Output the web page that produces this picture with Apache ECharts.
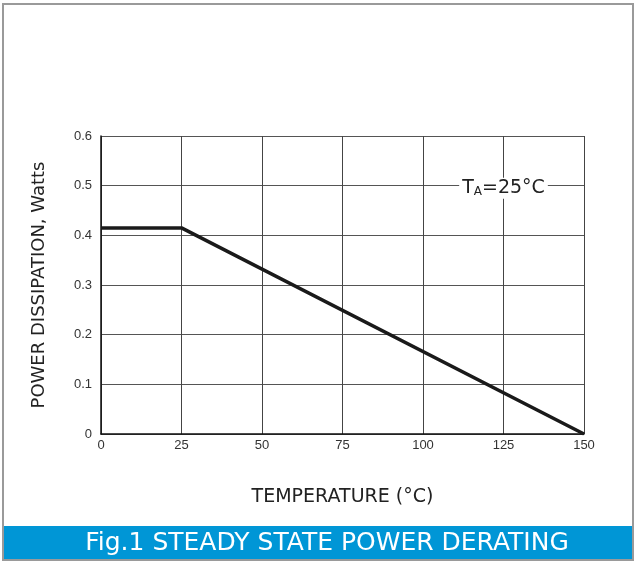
<!DOCTYPE html>
<html>
<head>
<meta charset="utf-8">
<script src="https://cdn.jsdelivr.net/npm/echarts@6/dist/echarts.min.js"></script>
<style>
html,body{margin:0;padding:0;background:#fff;}
#c{width:636px;height:563px;}
</style>
</head>
<body>
<div id="c"></div>
<script>
const temperature = [0, 25, 150];
const powerWatts = [0.415, 0.415, 0];
const xTicks = [0, 25, 50, 75, 100, 125, 150];
const yTicks = [0, 0.1, 0.2, 0.3, 0.4, 0.5, 0.6];
const title = 'Fig.1 STEADY STATE POWER DERATING';
const xTitle = 'TEMPERATURE (\u00B0C)';
const yTitle = 'POWER DISSIPATION, Watts';

const chart = echarts.init(document.getElementById('c'), null, {renderer: 'canvas'});
const font = 'Liberation Sans, Arial, sans-serif';
const wide = 'DejaVu Sans, sans-serif';
chart.setOption({
  animation: false,
  backgroundColor: '#fff',
  grid: {left: 101, right: 52, top: 136, bottom: 129},
  xAxis: {
    type: 'value', min: 0, max: 150, interval: 25,
    axisLine: {show: true, onZero: false, lineStyle: {color: '#111', width: 1.5}},
    axisTick: {show: false},
    axisLabel: {color: '#333', fontSize: 13, fontFamily: font, margin: 5,
      formatter: v => xTicks.includes(v) ? String(v) : ''},
    splitLine: {show: true, lineStyle: {color: '#444', width: 1}},
    name: xTitle, nameLocation: 'middle', nameGap: 54,
    nameTextStyle: {color: '#222', fontSize: 19, fontFamily: wide}
  },
  yAxis: {
    type: 'value', min: 0, max: 0.6, interval: 0.1,
    axisLine: {show: true, lineStyle: {color: '#111', width: 1.5}},
    axisTick: {show: false},
    axisLabel: {color: '#333', fontSize: 13, fontFamily: font, margin: 9,
      formatter: v => { const t = yTicks.find(y => Math.abs(y - v) < 1e-9); return t === 0 ? '0' : t.toFixed(1); }},
    splitLine: {show: true, lineStyle: {color: '#555', width: 1}},
    name: yTitle, nameLocation: 'middle', nameGap: 53,
    nameTextStyle: {color: '#222', fontSize: 18, fontFamily: wide}
  },
  series: [{
    type: 'line',
    data: temperature.map((t, i) => [t, powerWatts[i]]),
    symbol: 'none',
    lineStyle: {color: '#1a1a1a', width: 3.5},
    markPoint: {
      symbol: 'rect', symbolSize: 1,
      itemStyle: {color: 'rgba(0,0,0,0)'},
      data: [{coord: [125, 0.495]}],
      label: {
        show: true, position: 'inside',
        backgroundColor: '#fff', padding: [1, 3],
        formatter: 'T{s|A}=25\u00B0C',
        color: '#222', fontSize: 19, fontFamily: wide,
        rich: {
          s: {fontSize: 12, color: '#222', fontFamily: wide, verticalAlign: 'bottom', padding: [5, 0, 0, 0]}
        }
      }
    }
  }],
  graphic: [
    {type: 'rect', shape: {x: 3, y: 4, width: 630, height: 556},
     style: {fill: 'none', stroke: '#9a9a9a', lineWidth: 2}, z: 10},
    {type: 'rect', shape: {x: 3, y: 526, width: 630, height: 33},
     style: {fill: '#0096d6'}, z: 9},
    {type: 'text', x: 327, y: 543, z: 11,
     style: {text: title, fill: '#fff', font: '25px ' + wide, textAlign: 'center', textVerticalAlign: 'middle'}}
  ]
});
</script>
</body>
</html>
